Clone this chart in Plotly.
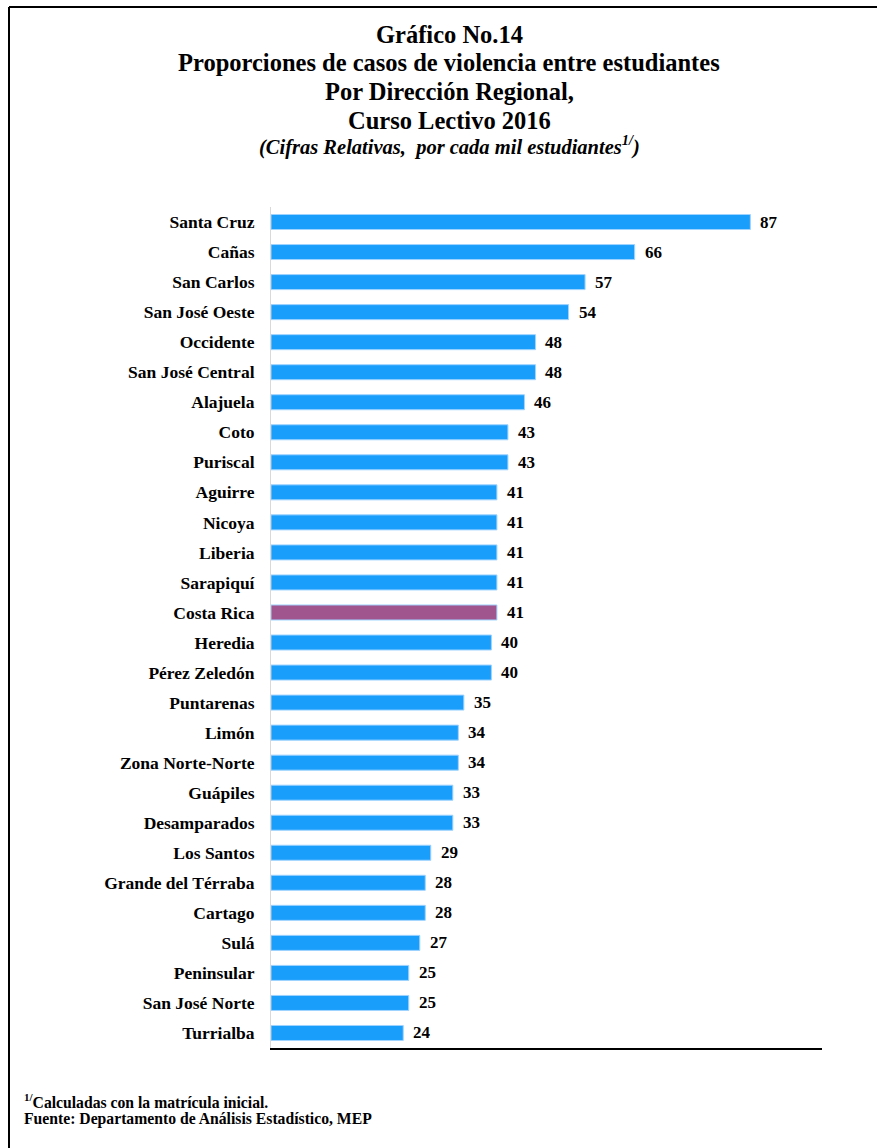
import plotly.graph_objects as go

categories = ["Santa Cruz", "Cañas", "San Carlos", "San José Oeste", "Occidente",
              "San José Central", "Alajuela", "Coto", "Puriscal", "Aguirre", "Nicoya",
              "Liberia", "Sarapiquí", "Costa Rica", "Heredia", "Pérez Zeledón",
              "Puntarenas", "Limón", "Zona Norte-Norte", "Guápiles", "Desamparados",
              "Los Santos", "Grande del Térraba", "Cartago", "Sulá", "Peninsular",
              "San José Norte", "Turrialba"]
values = [87, 66, 57, 54, 48, 48, 46, 43, 43, 41, 41, 41, 41, 41, 40, 40,
          35, 34, 34, 33, 33, 29, 28, 28, 27, 25, 25, 24]
highlight = "Costa Rica"

W, H = 877, 1148
ML, MR, MT, MB = 271, 55, 207, 100
PW, PH = W - ML - MR, H - MT - MB

def px2x(px):
    return (px - ML) / PW

def py2y(py):
    return (H - MB - py) / PH

FONT = "Liberation Serif"
BLUE = "#1A9EFC"
PURPLE = "#A0558E"
colors = [PURPLE if c == highlight else BLUE for c in categories]

fig = go.Figure(go.Bar(
    x=values, y=categories, orientation="h",
    marker=dict(color=colors, line=dict(color="#9FD3FF", width=1)),
    width=0.5,
))

annotations = []
for c, v in zip(categories, values):
    annotations.append(dict(x=v, y=c, xref="x", yref="y", text=str(v),
                            showarrow=False, xanchor="left", xshift=8,
                            font=dict(family=FONT, size=17, color="black", weight="bold")))

title_lines = [
    (35, "Gráfico No.14", 24.5),
    (63, "Proporciones de casos de violencia entre estudiantes", 24.5),
    (92, "Por Dirección Regional,", 24.5),
    (120, "Curso Lectivo 2016", 24.5),
    (146, "<i>(Cifras Relativas,  por cada mil estudiantes<sup>1/</sup>)</i>", 20.5),
]
for py, txt, sz in title_lines:
    annotations.append(dict(x=px2x(449), y=py2y(py), xref="paper", yref="paper",
                            text=txt, showarrow=False, xanchor="center", yanchor="middle",
                            font=dict(family=FONT, size=sz, color="black", weight="bold")))

foot = [
    (1101, "<sup>1/</sup>Calculadas con la matrícula inicial."),
    (1119, "Fuente: Departamento de Análisis Estadístico, MEP"),
]
for py, txt in foot:
    annotations.append(dict(x=px2x(22), y=py2y(py), xref="paper", yref="paper",
                            text=txt, showarrow=False, xanchor="left", yanchor="middle",
                            font=dict(family=FONT, size=15.7, color="black", weight="bold")))

shapes = [
    dict(type="line", xref="paper", yref="paper", x0=px2x(9), x1=px2x(900),
         y0=py2y(7), y1=py2y(7), line=dict(color="black", width=2)),
    dict(type="line", xref="paper", yref="paper", x0=px2x(9), x1=px2x(9),
         y0=py2y(7), y1=py2y(1170), line=dict(color="black", width=2)),
]

fig.update_layout(
    width=W, height=H,
    margin=dict(l=ML, r=MR, t=MT, b=MB, pad=0),
    paper_bgcolor="white", plot_bgcolor="white",
    showlegend=False,
    bargap=0.5,
    xaxis=dict(range=[0, 100], showticklabels=False, showgrid=False, zeroline=False,
               ticks="", showline=True, linecolor="black", linewidth=2),
    yaxis=dict(autorange="reversed", showgrid=False, zeroline=False, ticks="",
               showline=True, linecolor="#D9D9D9", linewidth=1,
               ticklabelstandoff=12,
               tickfont=dict(family=FONT, size=17.5, color="black", weight="bold")),
    annotations=annotations,
    shapes=shapes,
)

fig.write_html("out.html", config={"displayModeBar": False},
               post_script="document.body.style.margin='0';document.body.style.overflow='hidden';")
